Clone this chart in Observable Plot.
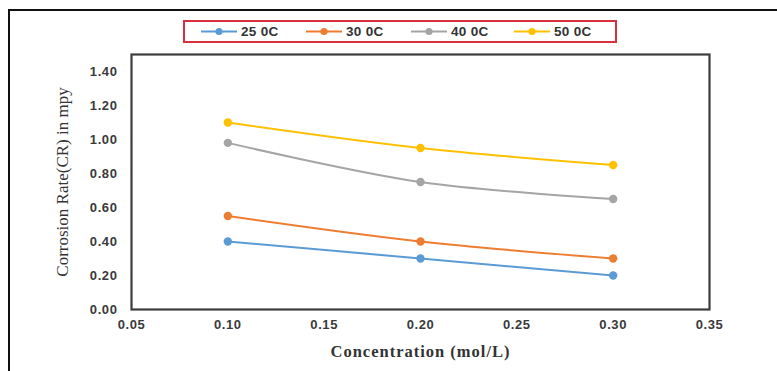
<!DOCTYPE html>
<html>
<head>
<meta charset="utf-8">
<script src="https://cdn.jsdelivr.net/npm/d3@7"></script>
<script src="https://cdn.jsdelivr.net/npm/@observablehq/plot@0.6"></script>
<style>
  html, body { margin: 0; padding: 0; background: #fff; }
  #wrap { position: relative; width: 777px; height: 371px; overflow: hidden; background: #fff; }
  #outer { position: absolute; left: 8px; top: 9px; width: 900px; height: 500px; border: 2px solid #111; box-sizing: border-box; }
  #chart { position: absolute; left: 0; top: 0; }
  #legend { position: absolute; left: 183px; top: 20px; width: 434px; height: 23px; border: 2px solid #d9303f; box-sizing: border-box;
            font-family: "Liberation Sans", Arial, sans-serif; font-weight: bold; font-size: 13.5px; color: #333; }
  .item { position: absolute; top: 0; height: 19px; display: flex; align-items: center; }
  .item svg { display: block; }
  .item span { margin-left: 3px; letter-spacing: 0.3px; }
</style>
</head>
<body>
<div id="wrap">
  <div id="outer"></div>
  <div id="chart"></div>
  <div id="legend"></div>
</div>
<script>
const concentrations = [0.10, 0.20, 0.30];
const seriesNames = ["25 0C", "30 0C", "40 0C", "50 0C"];
const seriesColors = ["#5b9bd5", "#ed7d31", "#a5a5a5", "#ffc000"];
const cr25 = [0.40, 0.30, 0.20];
const cr30 = [0.55, 0.40, 0.30];
const cr40 = [0.98, 0.75, 0.65];
const cr50 = [1.10, 0.95, 0.85];
const xTicks = [0.05, 0.10, 0.15, 0.20, 0.25, 0.30, 0.35];
const yTicks = [0.00, 0.20, 0.40, 0.60, 0.80, 1.00, 1.20, 1.40];
const xTitle = "Concentration (mol/L)";
const yTitle = "Corrosion Rate(CR) in mpy";

const seriesValues = [cr25, cr30, cr40, cr50];
const data = [];
seriesNames.forEach((s, i) => {
  concentrations.forEach((c, j) => data.push({series: s, x: c, y: seriesValues[i][j]}));
});

const chart = Plot.plot({
  width: 777,
  height: 371,
  marginLeft: 131,
  marginRight: 68,
  marginTop: 54,
  marginBottom: 62,
  style: {background: "transparent", overflow: "visible"},
  x: {domain: [0.05, 0.35]},
  y: {domain: [0, 1.5]},
  color: {domain: seriesNames, range: seriesColors},
  marks: [
    Plot.axisY({ticks: yTicks, tickSize: 0, tickPadding: 14, tickFormat: d3.format(".2f"), label: null,
      fontSize: 13, fontWeight: "bold", fill: "#3a3a3a", fontFamily: "Liberation Sans, Arial, sans-serif"}),
    Plot.axisX({ticks: xTicks, tickSize: 0, tickPadding: 10, tickFormat: d3.format(".2f"), label: null,
      fontSize: 13, fontWeight: "bold", fill: "#3a3a3a", fontFamily: "Liberation Sans, Arial, sans-serif"}),
    Plot.frame({stroke: "#3c3c3c", strokeWidth: 2.2}),
    Plot.line(data, {x: "x", y: "y", z: "series", stroke: "series", strokeWidth: 2, curve: "catmull-rom"}),
    Plot.dot(data, {x: "x", y: "y", fill: "series", r: 4.2}),
    Plot.text([yTitle], {text: d => d, frameAnchor: "left", textAnchor: "middle", lineAnchor: "middle", dx: -69, rotate: -90,
      fontSize: 17, fontFamily: "Liberation Serif, Times New Roman, serif", fill: "#333"}),
    Plot.text([xTitle], {text: d => d, frameAnchor: "bottom", textAnchor: "middle", lineAnchor: "middle", dy: 42,
      fontSize: 16.5, fontWeight: "bold", fontFamily: "Liberation Serif, Times New Roman, serif", fill: "#333"})
  ]
});
chart.querySelectorAll("text").forEach(t => {
  if (t.textContent === xTitle) t.setAttribute("letter-spacing", "1");
});
chart.querySelectorAll("g[aria-label='y-axis tick label'] text, g[aria-label='x-axis tick label'] text")
  .forEach(t => t.setAttribute("letter-spacing", "0.6"));
document.getElementById("chart").appendChild(chart);

// legend
const legendX = [15, 120, 225, 328];
const legend = document.getElementById("legend");
seriesNames.forEach((s, i) => {
  const item = document.createElement("div");
  item.className = "item";
  item.style.left = legendX[i] + "px";
  item.innerHTML = `<svg width="38" height="19"><line x1="1" y1="9.5" x2="37" y2="9.5" stroke="${seriesColors[i]}" stroke-width="2"/><circle cx="19" cy="9.5" r="3.6" fill="${seriesColors[i]}"/></svg><span>${s}</span>`;
  legend.appendChild(item);
});
</script>
</body>
</html>
